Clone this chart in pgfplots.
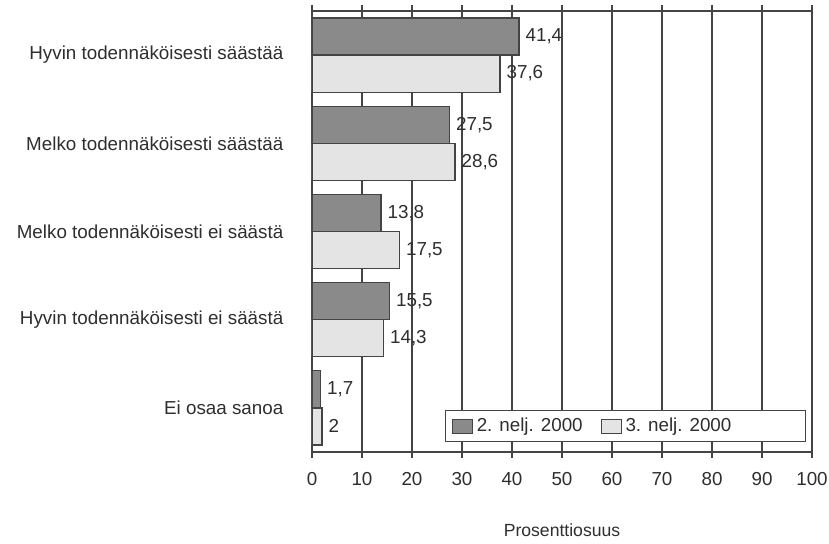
\documentclass[border=0pt]{standalone}
\usepackage{pgfplots}
\pgfplotsset{compat=1.18}
\usepackage{fontspec}
\setmainfont{Liberation Sans}
\definecolor{ink}{HTML}{2E2E2E}
\definecolor{darkbar}{HTML}{8A8A8A}
\definecolor{lightbar}{HTML}{E4E4E4}
\definecolor{edge}{HTML}{444444}
\begin{document}
\fontsize{9.4}{11}\selectfont
\begin{tikzpicture}
\begin{axis}[
  xbar, scale only axis,
  width=250pt, height=220.5pt,
  xmin=0, xmax=100, ymin=-0.5, ymax=4.5, y dir=reverse,
  bar width=0.42,
  xtick={0,10,...,100},
  ytick={0,1,2,3,4},
  yticklabels={Hyvin todennäköisesti säästää, Melko todennäköisesti säästää, Melko todennäköisesti ei säästä, Hyvin todennäköisesti ei säästä, Ei osaa sanoa},
  /pgf/number format/assume math mode=true,
  /pgf/number format/use comma,
  ticklabel style={font=\fontsize{9.4}{11}\selectfont, text=ink},
  yticklabel style={xshift=-8pt},
  xticklabel style={yshift=-4pt},
  ytick style={draw=none},
  xtick style={draw=edge, line width=0.7pt},
  tick align=outside,
  major tick length=3pt,
  axis line style={draw=edge, line width=0.8pt},
  xmajorgrids,
  grid style={draw=edge, line width=0.8pt},
  xlabel={Prosenttiosuus},
  xlabel style={at={(axis description cs:0.5,0)}, anchor=center, yshift=-39pt, font=\fontsize{8.8}{10}\selectfont, text=ink},
  nodes near coords,
  nodes near coords style={font=\fontsize{9.4}{11}\selectfont, text=ink, inner sep=3pt},
  legend columns=2,
  legend style={at={(axis description cs:0.988,0.023)}, anchor=south east, draw=edge, line width=0.5pt, fill=white, font=\fontsize{9.4}{11}\selectfont, text=ink, inner ysep=1.5pt, inner xsep=3pt,
    /tikz/every even column/.append style={column sep=7pt}},
  legend image code/.code={\draw[#1, line width=0.4pt] (0pt,-3.5pt) rectangle (10pt,3.5pt);},
]
\addplot[fill=darkbar, draw=edge, line width=0.6pt, bar shift=-0.21] coordinates {(41.4,0) (27.5,1) (13.8,2) (15.5,3) (1.7,4)};
\addlegendentry{2. nelj. 2000}
\addplot[fill=lightbar, draw=edge, line width=0.6pt, bar shift=0.21] coordinates {(37.6,0) (28.6,1) (17.5,2) (14.3,3) (2,4)};
\addlegendentry{\makebox[85pt][l]{3. nelj. 2000}}
\end{axis}
\pgfresetboundingbox
\path[use as bounding box] ([shift={(-156pt,-46pt)}]current axis.south west) rectangle ([shift={(8.5pt,5.5pt)}]current axis.north east);
\end{tikzpicture}
\end{document}
